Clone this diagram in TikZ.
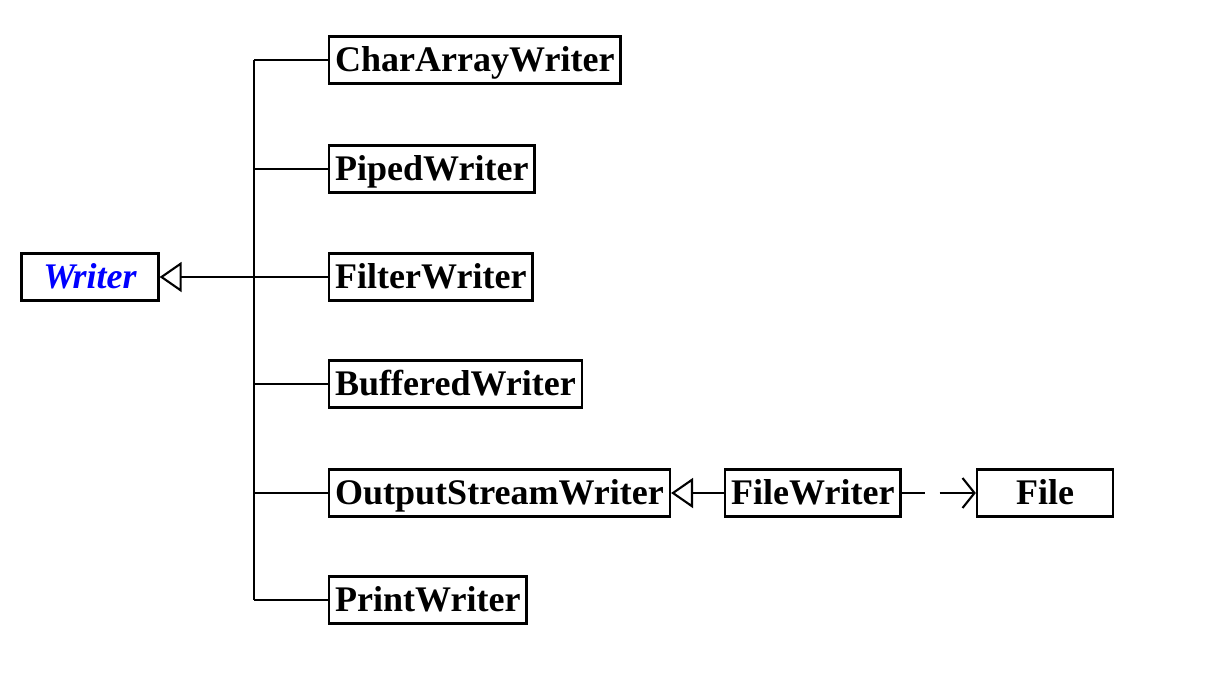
\documentclass[tikz,border=0pt]{standalone}
\usepackage{fontspec}
\setmainfont{Liberation Serif}
\usetikzlibrary{arrows.meta}

\tikzset{
  cls/.style={draw, line width=1.3pt, minimum height=0.94cm, inner xsep=0.12cm,
    text height=0.46cm, text depth=0pt,
    font=\fontsize{20.5}{24}\selectfont\bfseries},
  conn/.style={line width=1.2pt},
  gen/.style={conn, -{Triangle[open, length=0.44cm, width=0.6cm, fill=white]}},
  dep/.style={conn, dash pattern=on 0.46cm off 0.3cm on 0.8cm off 0.3cm,
    -{Straight Barb[length=0.24cm, width=0.6cm]}}
}

\begin{document}
\begin{tikzpicture}[x=0.02cm, y=-0.02cm]
  \useasboundingbox (0,0) rectangle (1212,672);

  % base class
  \node[cls, minimum width=2.74cm, text=blue,
    font=\fontsize{20.5}{24}\selectfont\bfseries\itshape] (writer) at (90,277) {Writer};

  % subclasses
  \coordinate (bus) at (254,0);
  \foreach \name/\txt/\y in {chararray/CharArrayWriter/60, piped/PipedWriter/169,
    filter/FilterWriter/277, buffered/BufferedWriter/384,
    outstream/OutputStreamWriter/493, print/PrintWriter/600}
  {
    \node[cls, anchor=west] (\name) at (328,\y) {\txt};
    \draw[conn] (\name.west) -- (\name.west -| bus);
  }
  \draw[conn] (chararray.west -| bus) -- (print.west -| bus);
  \draw[gen] (filter.west) -- (writer.east);

  % file writer
  \node[cls, anchor=west] (filewriter) at (724,493) {FileWriter};
  \node[cls, minimum width=2.72cm] (file) at (1045,493) {File};
  \draw[gen] (filewriter.west) -- (outstream.east);
  \draw[dep] (filewriter.east) -- (file.west);
\end{tikzpicture}
\end{document}
